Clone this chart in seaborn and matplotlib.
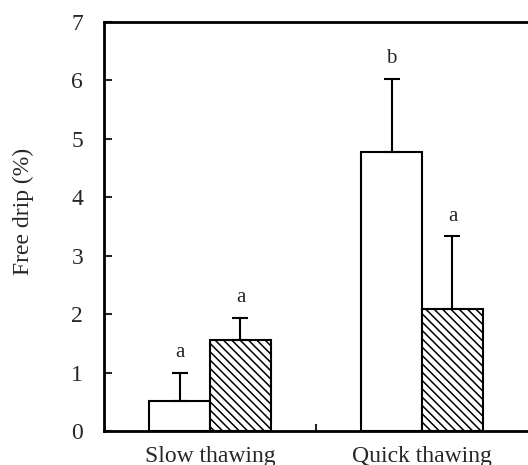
import matplotlib
matplotlib.use("Agg")
import matplotlib.pyplot as plt
import seaborn as sns
import pandas as pd
import numpy as np

# Free drip after thawing, two treatments per thawing method
categories = ["Slow thawing", "Quick thawing"]
treatments = ["Untreated", "Treated"]
drip_untreated = [0.52, 4.77]
drip_treated = [1.55, 2.08]
err_untreated = [0.47, 1.26]
err_treated = [0.39, 1.25]
letters_untreated = ["a", "b"]
letters_treated = ["a", "a"]
y_ticks = [0, 1, 2, 3, 4, 5, 6, 7]

sns.set_theme(style="white")
plt.rcParams["font.family"] = ["Liberation Serif", "DejaVu Serif"]
plt.rcParams["hatch.linewidth"] = 1.1

df = pd.DataFrame({
    "thawing": categories * 2,
    "treatment": [treatments[0]] * 2 + [treatments[1]] * 2,
    "drip": drip_untreated + drip_treated,
})

fig = plt.figure(figsize=(5.28, 4.65), dpi=100)
ax = fig.add_axes([0.197, 0.0731, 0.803, 0.8796])

sns.barplot(data=df, x="thawing", y="drip", hue="treatment",
            order=categories, hue_order=treatments,
            palette=["white", "white"], edgecolor="black", linewidth=1.5,
            width=0.575, gap=0, errorbar=None, legend=False, ax=ax,
            saturation=1)

bars = ax.patches
errs = err_untreated + err_treated
letters = letters_untreated + letters_treated
for i, p in enumerate(bars[:4]):
    if i >= 2:
        p.set_hatch("\\\\\\\\")
    x = p.get_x() + p.get_width() / 2
    h = p.get_height()
    ax.errorbar(x, h, yerr=[[0], [errs[i]]], fmt="none", ecolor="black",
                elinewidth=1.5, capsize=5.5, capthick=1.5, zorder=3)
    ax.text(x, h + errs[i] + 0.27, letters[i], ha="center", va="baseline",
            fontsize=15)

ax.set_xlim(-0.5, 1.5)
ax.set_ylim(0, 7)
ax.set_yticks(y_ticks)
ax.set_xticks([0, 1])
ax.set_xticks([0.5], minor=True)
ax.tick_params(axis="y", direction="in", length=6, width=1.5,
               labelsize=17, pad=15, left=True)
ax.tick_params(axis="x", which="major", length=0, labelsize=17, pad=10.5)
ax.tick_params(axis="x", which="minor", direction="in", length=5,
               width=1.5, bottom=True)
ax.set_xlabel("")
ax.set_ylabel("Free drip (%)", fontsize=17)
ax.yaxis.set_label_coords(-0.165, 0.538)

for side in ["left", "bottom", "top"]:
    ax.spines[side].set_visible(True)
    ax.spines[side].set_linewidth(2)
    ax.spines[side].set_color("black")
ax.spines["right"].set_visible(False)

fig.savefig("out.png", dpi=100)
